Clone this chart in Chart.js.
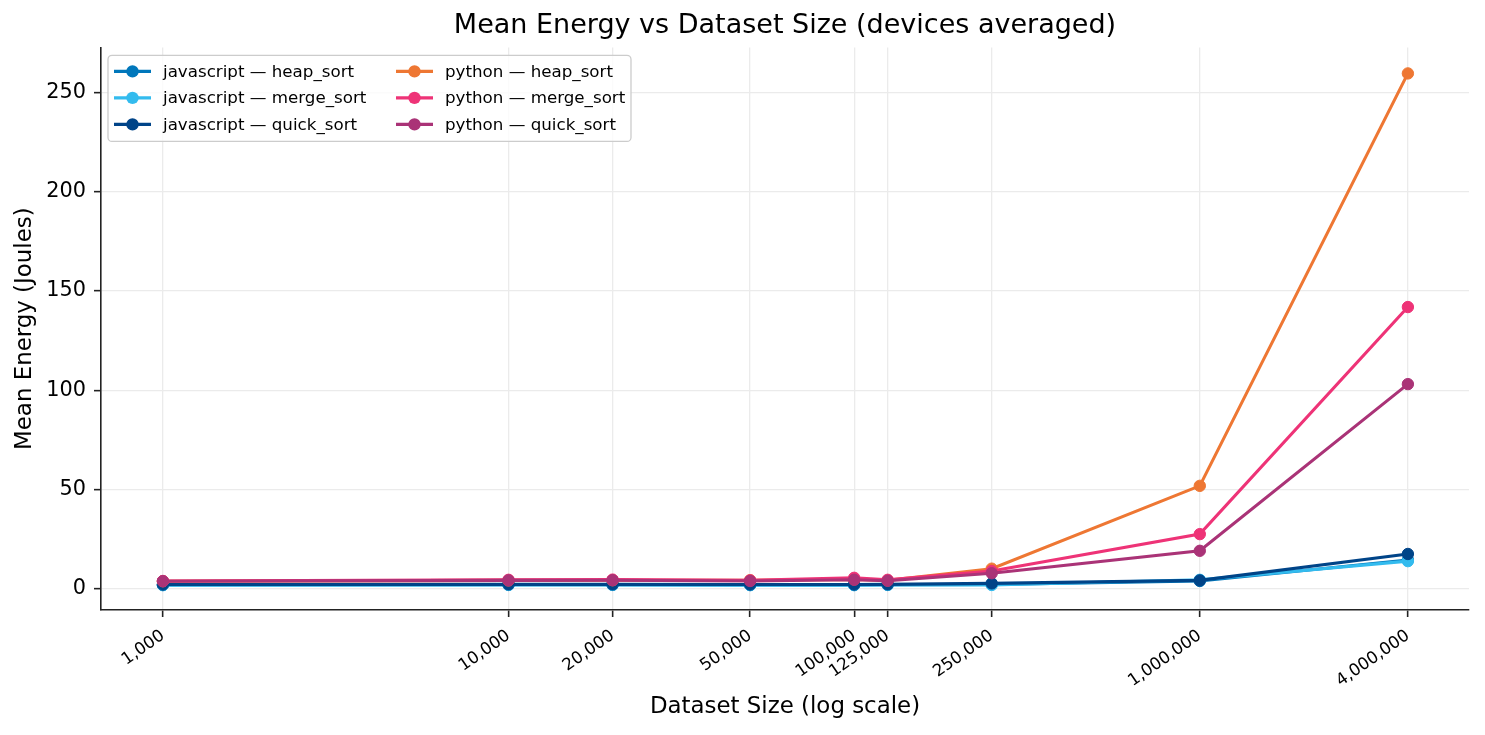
<!DOCTYPE html>
<html>
<head>
<meta charset="utf-8">
<title>Mean Energy vs Dataset Size</title>
<script src="https://cdn.jsdelivr.net/npm/chart.js@4.4.1/dist/chart.umd.min.js"></script>
<style>
    html, body { margin: 0; padding: 0; background: #fff; }
    #wrap { width: 1485px; height: 735px; position: relative; }
</style>
</head>
<body>
<div id="wrap"><canvas id="energyChart"></canvas></div>
<script>
// 資料集大小（x 軸，對數刻度）
const datasetSizes = [1000, 10000, 20000, 50000, 100000, 125000, 250000, 1000000, 4000000];
const xTicks = [1000, 10000, 20000, 50000, 100000, 125000, 250000, 1000000, 4000000];
const yTicks = [0, 50, 100, 150, 200, 250];

// 各語言與演算法的平均能耗（焦耳）
const jsHeapSort  = [2.0, 2.1, 2.1, 2.0, 2.0, 2.1, 2.3, 4.0, 14.6];
const jsMergeSort = [1.9, 2.0, 2.0, 1.9, 1.9, 2.0, 2.0, 4.6, 14.0];
const jsQuickSort = [2.2, 2.3, 2.3, 2.2, 2.2, 2.3, 2.8, 4.3, 17.6];
const pyHeapSort  = [3.9, 4.3, 4.4, 4.4, 4.8, 4.3, 10.2, 51.9, 259.5];
const pyMergeSort = [4.0, 4.6, 4.7, 4.3, 5.6, 4.6, 9.0, 27.6, 141.9];
const pyQuickSort = [3.9, 4.3, 4.4, 4.0, 4.6, 4.1, 7.9, 19.2, 103.1];

const seriesLabels = [
    'javascript — heap_sort', 'javascript — merge_sort', 'javascript — quick_sort',
    'python — heap_sort', 'python — merge_sort', 'python — quick_sort'
];
const seriesValues = [jsHeapSort, jsMergeSort, jsQuickSort, pyHeapSort, pyMergeSort, pyQuickSort];
const seriesColors = ['#0077bb', '#33bbee', '#004488', '#ee7733', '#ee3377', '#aa3377'];

const FONT = "'DejaVu Sans', sans-serif";
Chart.defaults.color = '#000';
Chart.defaults.font.family = FONT;

// 圖內圖例（兩欄，仿 matplotlib）
const insideLegend = {
    id: 'insideLegend',
    afterDraw(chart) {
        const ctx = chart.ctx;
        const area = chart.chartArea;
        const boxX = area.left + 7, boxY = area.top + 8, boxW = 523, boxH = 86;

        ctx.save();
        ctx.beginPath();
        ctx.roundRect(boxX, boxY, boxW, boxH, 4);
        ctx.fillStyle = 'rgba(255,255,255,0.8)';
        ctx.fill();
        ctx.strokeStyle = '#cccccc';
        ctx.lineWidth = 1.3;
        ctx.stroke();

        ctx.font = '16.7px ' + FONT;
        ctx.textBaseline = 'middle';
        chart.data.datasets.forEach((ds, i) => {
            const col = Math.floor(i / 3), row = i % 3;
            const x0 = boxX + 6 + col * 282;
            const y = boxY + 16 + row * 26.5;
            ctx.strokeStyle = ds.borderColor;
            ctx.lineWidth = 3.1;
            ctx.beginPath();
            ctx.moveTo(x0, y);
            ctx.lineTo(x0 + 37, y);
            ctx.stroke();
            ctx.fillStyle = ds.borderColor;
            ctx.beginPath();
            ctx.arc(x0 + 18.5, y, 6.2, 0, Math.PI * 2);
            ctx.fill();
            ctx.fillStyle = '#000';
            ctx.fillText(ds.label, x0 + 49, y + 1);
        });
        ctx.restore();
    }
};

const datasets = seriesValues.map((vals, i) => ({
    label: seriesLabels[i],
    data: vals.map((v, k) => ({ x: datasetSizes[k], y: v })),
    borderColor: seriesColors[i],
    backgroundColor: seriesColors[i],
    pointBackgroundColor: seriesColors[i],
    pointBorderColor: seriesColors[i],
    borderWidth: 3.1,
    pointRadius: 5.7,
    pointBorderWidth: 1,
    pointHoverRadius: 5.7,
    tension: 0,
    order: seriesValues.length - i
}));

new Chart(document.getElementById('energyChart'), {
    type: 'line',
    data: { datasets },
    plugins: [insideLegend],
    options: {
        responsive: true,
        maintainAspectRatio: false,
        devicePixelRatio: 1,
        animation: false,
        layout: { padding: { left: 0, right: 16, top: 0, bottom: 0 } },
        plugins: {
            legend: { display: false },
            tooltip: { enabled: false },
            title: {
                display: true,
                fullSize: false,
                text: 'Mean Energy vs Dataset Size (devices averaged)',
                color: '#000',
                font: { size: 27, weight: 'normal', family: FONT, lineHeight: 1.2 },
                padding: { top: 10, bottom: 5 }
            }
        },
        scales: {
            x: {
                type: 'logarithmic',
                min: 662,
                max: 6010000,
                afterBuildTicks: (scale) => { scale.ticks = xTicks.map(v => ({ value: v })); },
                afterFit: (scale) => { scale.height = 125; },
                ticks: {
                    autoSkip: false,
                    minRotation: 35,
                    maxRotation: 35,
                    padding: 9,
                    color: '#000',
                    font: { size: 16.7, family: FONT },
                    callback: (v) => Number(v).toLocaleString('en-US')
                },
                grid: { color: '#ebebeb', lineWidth: 1.3, tickColor: '#222', tickLength: 7, tickWidth: 1.6 },
                border: { display: true, color: '#222', width: 1.6 },
                title: {
                    display: true,
                    text: 'Dataset Size (log scale)',
                    color: '#000',
                    font: { size: 22.9, family: FONT, lineHeight: 1.2 },
                    padding: { top: 0, bottom: 14 }
                }
            },
            y: {
                type: 'linear',
                min: -10.6,
                max: 272.6,
                afterBuildTicks: (scale) => { scale.ticks = yTicks.map(v => ({ value: v })); },
                afterFit: (scale) => { scale.width = 101; },
                ticks: {
                    padding: 8,
                    color: '#000',
                    font: { size: 20.8, family: FONT }
                },
                grid: { color: '#ebebeb', lineWidth: 1.3, tickColor: '#222', tickLength: 7, tickWidth: 1.6 },
                border: { display: true, color: '#222', width: 1.6 },
                title: {
                    display: true,
                    text: 'Mean Energy (Joules)',
                    color: '#000',
                    font: { size: 22.9, family: FONT, lineHeight: 1.2 },
                    padding: { top: 11, bottom: 0 }
                }
            }
        }
    }
});
</script>
</body>
</html>
